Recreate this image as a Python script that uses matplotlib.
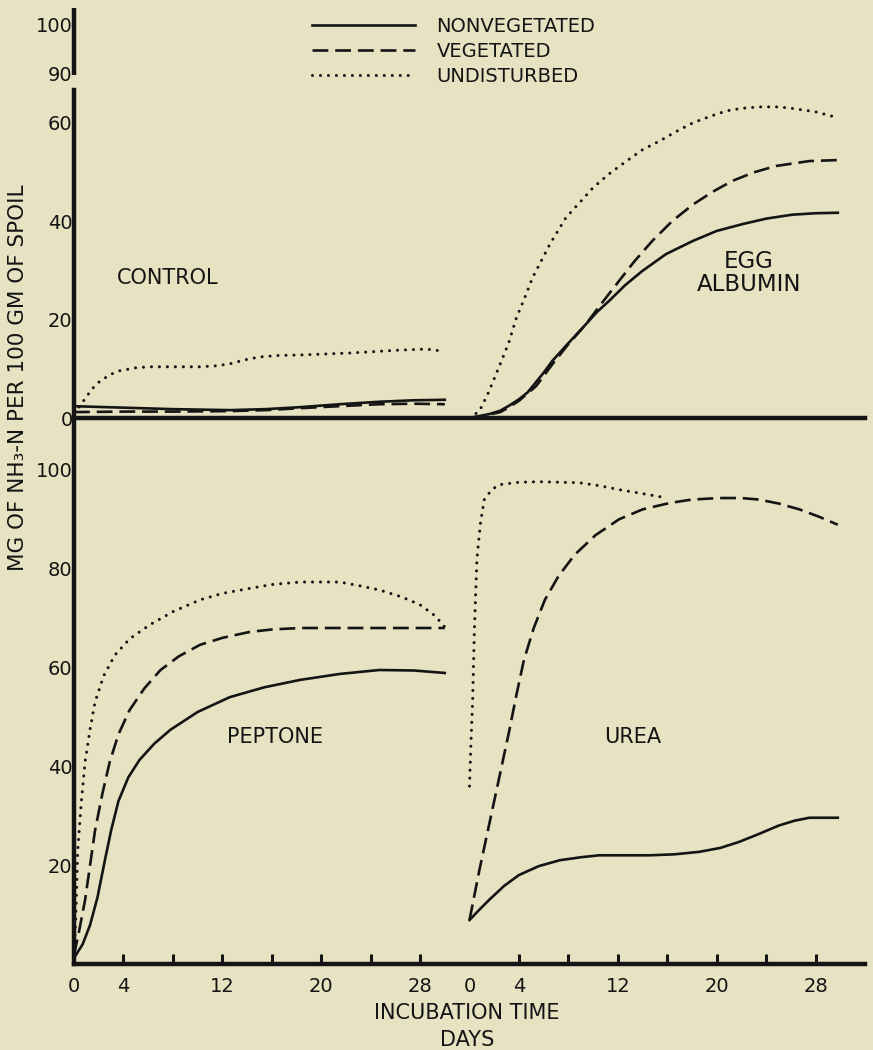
import matplotlib
matplotlib.use("Agg")
import matplotlib.pyplot as plt
from matplotlib.lines import Line2D

# offset (days) of the right-hand group of curves on the shared time axis
RIGHT_SHIFT = 32

# ---- CONTROL (top left) ----
ctl_und_days = [0, 0.5, 1, 1.5, 2.1, 3, 3.7, 5, 6.1, 8, 10.2, 11.5, 12.6, 13.8, 15,
                16.5, 18.3, 22.3, 26.4, 28.4, 29.3, 30]
ctl_und_vals = [1, 2.5, 4.3, 6, 7.5, 8.9, 9.6, 10.2, 10.4, 10.4, 10.4, 10.6, 11, 11.8, 12.4,
                12.7, 12.8, 13.2, 13.8, 14, 13.8, 13.2]
ctl_non_days = [0, 4, 8, 12.6, 15.5, 18.3, 21.5, 24.7, 27.5, 30]
ctl_non_vals = [2.4, 2.1, 1.8, 1.6, 1.8, 2.2, 2.8, 3.3, 3.6, 3.7]
ctl_veg_days = [0, 4, 8, 12.6, 15.5, 18.3, 21.5, 24.7, 27.5, 30]
ctl_veg_vals = [1.2, 1.3, 1.3, 1.4, 1.6, 2.0, 2.4, 2.8, 2.9, 2.8]

# ---- EGG ALBUMIN (top right) ----
egg_und_days = [0, 0.8, 1.5, 2, 2.7, 3.2, 3.8, 4.4, 5.1, 6.5, 7.8, 9, 10, 11.3, 12.7, 14,
                15.4, 16.8, 18.1, 19.5, 20.8, 22, 23.4, 25, 26.1, 28, 29.8]
egg_und_vals = [0, 1.4, 5, 8, 12.3, 15.5, 20.4, 24, 28.5, 35.3, 40.7, 44, 46.8, 49.6, 52.2, 54.5,
                56.3, 58.3, 60, 61.3, 62.4, 62.9, 63.2, 63.2, 62.9, 62.2, 61]
egg_veg_days = [0, 0.8, 1.6, 2.5, 3.2, 4, 5.4, 6.7, 8, 9.4, 10.6, 11.9, 13.3, 14.8, 16.4,
                18.1, 19.7, 21.3, 23, 24.8, 27.5, 29.8]
egg_veg_vals = [0, 0.3, 0.7, 1.2, 2.2, 3.5, 6.5, 10.9, 15, 19, 23, 27.2, 31.7, 36, 40,
                43.4, 46, 48.2, 49.9, 51.2, 52.2, 52.4]
egg_non_days = [0, 0.8, 1.6, 2.5, 3.2, 4, 4.7, 6, 6.7, 8, 9.4, 10.3, 11.3, 12.6, 14, 15.9,
                18.1, 20, 22.1, 24, 26.1, 28, 29.8]
egg_non_vals = [0, 0.4, 0.8, 1.5, 2.5, 3.8, 5.2, 9.2, 11.6, 15.2, 19, 21.5, 23.8, 27, 29.9, 33.3,
                36, 38, 39.4, 40.5, 41.3, 41.6, 41.7]

# ---- PEPTONE (bottom left) ----
pep_und_days = [0, 0.15, 0.3, 0.6, 0.9, 1.3, 1.7, 2.4, 3.3, 4.5, 6.1, 8, 10.2, 12, 14.2,
                16, 18.3, 21.5, 23, 24.7, 26.5, 28, 29.2, 30]
pep_und_vals = [1, 10, 23, 33, 41, 47.5, 53, 58.3, 62.5, 65.8, 68.6, 71.3, 73.7, 75, 76,
                76.8, 77.3, 77.3, 76.6, 75.7, 74.3, 72.7, 70.5, 68.2]
pep_veg_days = [0, 0.4, 0.9, 1.3, 1.7, 2.3, 2.9, 3.6, 4.5, 5.7, 7, 8.5, 10.2, 12, 14.2,
                16, 18.3, 24, 30]
pep_veg_vals = [1.8, 6.5, 13, 20, 27, 34.5, 41, 46.5, 51.4, 55.8, 59.5, 62.3, 64.6, 66, 67.2,
                67.7, 68, 68, 68]
pep_non_days = [0, 0.7, 1.3, 1.9, 2.5, 3, 3.6, 4.4, 5.3, 6.5, 7.8, 10, 12.6, 15.4, 18.3,
                21.5, 24.7, 27.5, 30]
pep_non_vals = [1.2, 4, 7.9, 13.5, 21, 27, 33, 37.8, 41.3, 44.6, 47.4, 51, 54, 56, 57.5,
                58.7, 59.5, 59.4, 58.9]

# ---- UREA (bottom right) ----
urea_und_days = [0, 0.12, 0.25, 0.4, 0.6, 0.9, 1.2, 1.8, 2.4, 4, 5.7, 8.9, 10.5, 12.1, 14, 16]
urea_und_vals = [36, 45, 53, 68, 82, 89.5, 94, 96, 97, 97.5, 97.6, 97.4, 96.8, 96, 95.2, 94.3]
urea_veg_days = [0, 0.8, 1.4, 2, 2.6, 3.2, 3.8, 4.4, 5.2, 6.1, 7.2, 8.5, 10.2, 12.1, 14,
                 16.2, 18, 20.2, 22, 23.4, 25, 26.7, 28.3, 29.8]
urea_veg_vals = [8.9, 19, 26, 33, 40, 47, 54.5, 61.5, 68, 73.7, 78.5, 82.8, 86.8, 90, 92,
                 93.3, 94, 94.3, 94.3, 94, 93.2, 92, 90.5, 88.9]
urea_non_days = [0, 0.8, 1.6, 2.8, 4, 5.6, 7.3, 9, 10.5, 12.5, 14.6, 16.6, 18.6, 20.3, 21.8,
                 23.4, 25, 26.3, 27.5, 29.8]
urea_non_vals = [8.9, 11, 13, 15.8, 18, 19.8, 21, 21.6, 22, 22, 22, 22.2, 22.7, 23.5, 24.7,
                 26.3, 28, 29, 29.6, 29.6]

# axis labelling
tick_pos = list(range(0, 61, 4))
tick_lab = ["0", "4", "", "12", "", "20", "", "28", "0", "4", "", "12", "", "20", "", "28"]
top_ticks = [0, 20, 40, 60, 70, 80]
top_labels = ["0", "20", "40", "60", "90", "100"]
bot_ticks = [20, 40, 60, 80, 100]
bot_labels = ["20", "40", "60", "80", "100"]

BG = "#e6e2c2"
INK = "#141414"
plt.rcParams["font.family"] = ["DejaVu Sans"]

fig = plt.figure(figsize=(8.73, 10.5), dpi=100, facecolor=BG)
left, width = 74 / 873, 791 / 873
ax_bot = fig.add_axes([left, 86 / 1050, width, 546 / 1050])
ax_top = fig.add_axes([left, 632 / 1050, width, 412 / 1050])

styles = {
    "non": dict(color=INK, lw=1.9, linestyle="-"),
    "veg": dict(color=INK, lw=1.9, linestyle=(0, (6, 2.6))),
    "und": dict(color=INK, lw=2.2, linestyle=(0, (0.01, 2.6)), dash_capstyle="round"),
}


def shift(days):
    return [d + RIGHT_SHIFT for d in days]


ax_top.plot(ctl_und_days, ctl_und_vals, **styles["und"])
ax_top.plot(ctl_non_days, ctl_non_vals, **styles["non"])
ax_top.plot(ctl_veg_days, ctl_veg_vals, **styles["veg"])
ax_top.plot(shift(egg_und_days), egg_und_vals, **styles["und"])
ax_top.plot(shift(egg_veg_days), egg_veg_vals, **styles["veg"])
ax_top.plot(shift(egg_non_days), egg_non_vals, **styles["non"])

ax_bot.plot(pep_und_days, pep_und_vals, **styles["und"])
ax_bot.plot(pep_veg_days, pep_veg_vals, **styles["veg"])
ax_bot.plot(pep_non_days, pep_non_vals, **styles["non"])
ax_bot.plot(shift(urea_und_days), urea_und_vals, **styles["und"])
ax_bot.plot(shift(urea_veg_days), urea_veg_vals, **styles["veg"])
ax_bot.plot(shift(urea_non_days), urea_non_vals, **styles["non"])

for ax in (ax_top, ax_bot):
    ax.set_facecolor("none")
    ax.set_xlim(0, 64)
    for s in ("top", "right"):
        ax.spines[s].set_visible(False)
    for s in ("left", "bottom"):
        ax.spines[s].set_linewidth(3.2)
        ax.spines[s].set_color(INK)
    ax.tick_params(axis="y", length=0, pad=1, labelsize=14, colors=INK)

ax_top.set_ylim(0, 83.7)
ax_bot.set_ylim(0, 110.5)

# broken upper axis: lower piece + short piece for 90-100
ax_top.spines["left"].set_bounds(0, 66.7)
ax_top.plot([0, 0], [69.7, 83.2], color=INK, lw=3.2, clip_on=False,
            solid_capstyle="butt")

ax_top.set_yticks(top_ticks)
ax_top.set_yticklabels(top_labels)
ax_top.set_xticks([])
ax_bot.set_yticks(bot_ticks)
ax_bot.set_yticklabels(bot_labels)

ax_bot.set_xticks(tick_pos)
ax_bot.set_xticklabels(tick_lab)
ax_bot.tick_params(axis="x", direction="in", length=7, width=2.2, pad=9,
                   labelsize=14, colors=INK)
# no marks at the two day-0 positions
for i, t in enumerate(ax_bot.xaxis.get_major_ticks()):
    if tick_pos[i] % RIGHT_SHIFT == 0:
        t.tick1line.set_visible(False)

# panel names
ax_top.text(7.6, 28.5, "CONTROL", ha="center", va="center", fontsize=15, color=INK)
ax_top.text(54.6, 29.4, "EGG\nALBUMIN", ha="center", va="center", fontsize=16.5,
            color=INK, linespacing=1.0)
ax_bot.text(16.3, 46, "PEPTONE", ha="center", va="center", fontsize=15, color=INK)
ax_bot.text(45.2, 46, "UREA", ha="center", va="center", fontsize=15, color=INK)

fig.text(18 / 873, 1 - 378 / 1050, "MG OF NH\u2083-N PER 100 GM OF SPOIL", rotation=90,
         ha="center", va="center", fontsize=15.5, color=INK)
fig.text(467 / 873, 1 - 1013 / 1050, "INCUBATION TIME", ha="center", va="center",
         fontsize=15, color=INK)
fig.text(467 / 873, 1 - 1040 / 1050, "DAYS", ha="center", va="center", fontsize=15, color=INK)

handles = [
    Line2D([], [], label="NONVEGETATED", **styles["non"]),
    Line2D([], [], label="VEGETATED", **styles["veg"]),
    Line2D([], [], label="UNDISTURBED", **styles["und"]),
]
leg = fig.legend(handles=handles, loc="upper left", bbox_to_anchor=(312 / 873, 1 - 17 / 1050),
                 frameon=False, fontsize=14, handlelength=5.3, handletextpad=1.1,
                 labelspacing=0.3, borderpad=0, borderaxespad=0)
for t in leg.get_texts():
    t.set_color(INK)

fig.savefig("out.png", dpi=100, facecolor=BG)
